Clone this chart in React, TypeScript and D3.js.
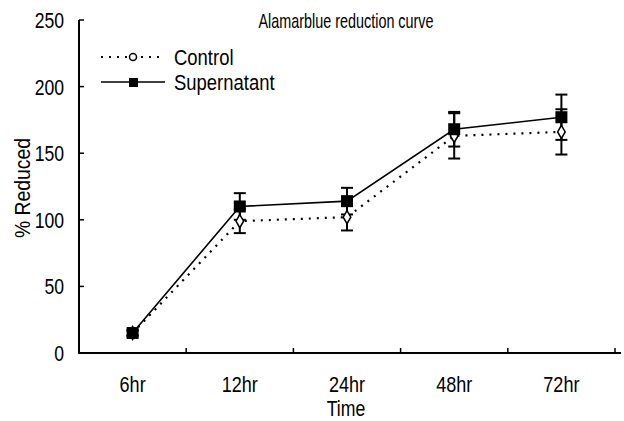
import * as d3 from 'd3';
import React, { useEffect, useRef } from 'react';

const categories = ['6hr', '12hr', '24hr', '48hr', '72hr'];
const controlValues = [15, 99, 102, 163, 166];
const controlErrors = [2, 9, 10, 17, 17];
const supernatantValues = [15, 110, 114, 168, 177];
const supernatantErrors = [2, 10, 10, 13, 17];
const yTicks = [0, 50, 100, 150, 200, 250];

const FONT = "'Liberation Sans', Arial, Helvetica, sans-serif";

function App() {
  const ref = useRef<SVGSVGElement>(null);

  useEffect(() => {
    const height = 421;
    const margin = { top: 20, right: 9, bottom: 68, left: 79 };

    const svg = d3.select(ref.current);
    svg.selectAll('*').remove();

    const x = d3.scaleBand()
      .domain(categories)
      .range([margin.left, 615]);

    const y = d3.scaleLinear()
      .domain([0, 250])
      .range([height - margin.bottom, margin.top]);

    // condensed text: squeeze Liberation Sans horizontally
    const label = (parent: any, tx: number, ty: number, s: string, size: number, sx: number,
      anchor = 'start', rot = 0) => {
      parent.append('text')
        .attr('transform', `translate(${tx},${ty}) rotate(${rot}) scale(${sx},1)`)
        .attr('font-family', FONT)
        .attr('font-size', size)
        .attr('text-anchor', anchor)
        .attr('fill', '#000')
        .text(s);
    };

    const g = svg.append('g');

    g.append('line')
      .attr('x1', margin.left).attr('x2', margin.left)
      .attr('y1', y(250)).attr('y2', y(0))
      .attr('stroke', '#000').attr('stroke-width', 2);

    g.append('line')
      .attr('x1', margin.left - 1).attr('x2', 621)
      .attr('y1', y(0)).attr('y2', y(0))
      .attr('stroke', '#000').attr('stroke-width', 2);

    g.selectAll('.ytick')
      .data(yTicks)
      .enter()
      .append('line')
      .attr('x1', margin.left).attr('x2', margin.left + 5)
      .attr('y1', d => y(d)).attr('y2', d => y(d))
      .attr('stroke', '#000').attr('stroke-width', 1.5);

    yTicks.forEach(t => label(g, 64, y(t) + 8, String(t), 22, 0.8, 'end'));

    const bounds = categories.map(c => (x(c) as number) + x.bandwidth());
    g.selectAll('.xtick')
      .data(bounds)
      .enter()
      .append('line')
      .attr('x1', d => d).attr('x2', d => d)
      .attr('y1', y(0)).attr('y2', y(0) - 5)
      .attr('stroke', '#000').attr('stroke-width', 1.5);

    categories.forEach(c =>
      label(g, (x(c) as number) + x.bandwidth() / 2, 392, c, 21.5, 0.84, 'middle'));

    label(g, 346, 416, 'Time', 21.5, 0.82, 'middle');
    label(g, 30, 188, '% Reduced', 22, 0.88, 'middle', -90);
    label(g, 346, 28, 'Alamarblue reduction curve', 20, 0.72, 'middle');

    const cx = (i: number) => (x(categories[i]) as number) + x.bandwidth() / 2;
    const line = d3.line<number>().x((_, i) => cx(i)).y(d => y(d));

    // error bars
    const drawErrors = (vals: number[], errs: number[]) => {
      vals.forEach((v, i) => {
        const eg = svg.append('g').attr('stroke', '#000').attr('stroke-width', 2);
        eg.append('line').attr('x1', cx(i)).attr('x2', cx(i))
          .attr('y1', y(v - errs[i])).attr('y2', y(v + errs[i]));
        [v - errs[i], v + errs[i]].forEach(e => {
          eg.append('line').attr('x1', cx(i) - 6).attr('x2', cx(i) + 6)
            .attr('y1', y(e)).attr('y2', y(e));
        });
      });
    };
    drawErrors(controlValues, controlErrors);
    drawErrors(supernatantValues, supernatantErrors);

    // control line
    svg.append('path')
      .attr('d', line(controlValues))
      .attr('fill', 'none')
      .attr('stroke', '#000')
      .attr('stroke-width', 2.2)
      .attr('stroke-dasharray', '2,6');

    // supernatant line
    svg.append('path')
      .attr('d', line(supernatantValues))
      .attr('fill', 'none')
      .attr('stroke', '#000')
      .attr('stroke-width', 1.6);

    const diamond = d3.symbol().type(d3.symbolDiamond).size(50);
    svg.selectAll('.cpt')
      .data(controlValues)
      .enter()
      .append('path')
      .attr('d', diamond)
      .attr('transform', (d, i) => `translate(${cx(i)},${y(d)})`)
      .attr('fill', '#fff')
      .attr('stroke', '#000')
      .attr('stroke-width', 1.5);

    svg.selectAll('.spt')
      .data(supernatantValues)
      .enter()
      .append('rect')
      .attr('x', (d, i) => cx(i) - 6)
      .attr('y', d => y(d) - 6)
      .attr('width', 12).attr('height', 12)
      .attr('fill', '#000');

    // legend
    const lg = svg.append('g');
    lg.append('line')
      .attr('x1', 101).attr('x2', 165).attr('y1', 57).attr('y2', 57)
      .attr('stroke', '#000').attr('stroke-width', 2)
      .attr('stroke-dasharray', '2,6');
    lg.append('circle')
      .attr('cx', 133).attr('cy', 57).attr('r', 3.5)
      .attr('fill', '#fff').attr('stroke', '#000').attr('stroke-width', 1.5);
    label(lg, 174, 65, 'Control', 22, 0.84);

    lg.append('line')
      .attr('x1', 101).attr('x2', 165).attr('y1', 82).attr('y2', 82)
      .attr('stroke', '#000').attr('stroke-width', 1.6);
    lg.append('rect')
      .attr('x', 129).attr('y', 78).attr('width', 9).attr('height', 9)
      .attr('fill', '#000');
    label(lg, 174, 90, 'Supernatant', 22, 0.84);
  });

  return (
    <svg ref={ref} width={624} height={421}
      style={{ position: 'absolute', left: 0, top: 0, background: '#fff' }} />
  );
}

export default App;
